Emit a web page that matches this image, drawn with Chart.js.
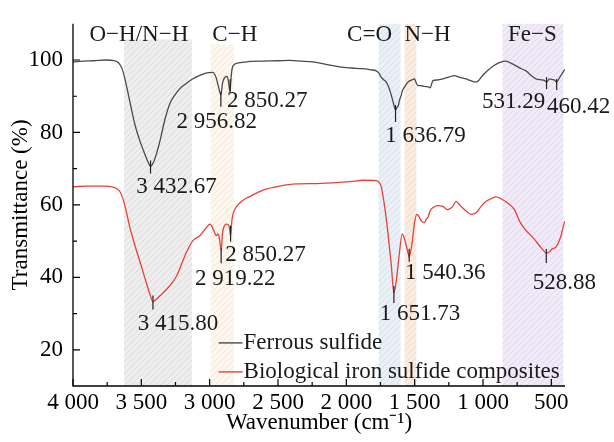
<!DOCTYPE html>
<html>
<head>
<meta charset="utf-8">
<script src="https://cdn.jsdelivr.net/npm/chart.js@4/dist/chart.umd.min.js"></script>
<style>
html,body{margin:0;padding:0;background:#fff;}
#wrap{width:614px;height:442px;}
</style>
</head>
<body>
<div id="wrap"><canvas id="c" width="614" height="442"></canvas></div>
<script>
// ---------- data ----------
const seriesNames = ["Ferrous sulfide", "Biological iron sulfide composites"];

const ferrousWn = [4000,3925,3850,3754,3700,3669,3644,3620,3584,3547,3510,3474,3450,3433,3415,3401,3364,3328,3291,3250,3218,3180,3145,3100,3048,3010,2975,2960,2950,2935,2918,2905,2889,2873,2862,2852,2840,2829,2790,2750,2700,2612,2500,2414,2330,2246,2150,2049,1960,1881,1820,1781,1760,1744,1725,1708,1690,1671,1655,1640,1630,1623,1610,1598,1590,1575,1550,1520,1501,1490,1477,1450,1428,1400,1386,1375,1367,1330,1294,1250,1209,1170,1123,1090,1050,1030,1014,985,953,920,880,831,800,758,720,685,650,612,565,545,535,514,492,475,461,442,422,405,400];
const ferrousT = [99.5,99.7,99.8,100.0,99.8,99.3,97.9,94.8,88.5,82.2,77.6,74.0,71.8,70.6,71.5,72.7,77.6,83.5,88.0,90.6,92.1,93.3,94.3,95.3,96.1,96.5,96.6,95.8,94.8,92.5,90.4,93.8,95.2,95.5,94.0,91.4,96.5,98.4,99.2,99.4,99.6,99.7,99.8,99.9,99.7,99.5,98.8,98.1,97.8,97.6,97.3,97.0,96.3,95.2,94.5,93.9,92.5,90.3,88.0,86.2,86.9,87.1,89.0,90.3,91.5,92.5,93.9,94.5,94.8,93.8,93.0,92.9,92.7,92.6,92.3,93.5,94.3,94.5,94.8,95.3,95.7,95.2,94.8,94.3,93.9,94.4,95.2,96.4,97.5,98.5,99.3,99.7,99.2,98.4,97.6,97.0,95.8,94.8,94.5,94.2,93.9,94.8,94.6,94.4,93.9,95.0,96.2,97.2,97.4];

const bioWn = [4000,3900,3779,3706,3657,3632,3608,3584,3547,3510,3474,3437,3415,3401,3364,3315,3267,3240,3218,3169,3121,3072,3023,2999,2985,2970,2950,2938,2928,2916,2905,2897,2877,2858,2847,2838,2829,2804,2780,2731,2707,2610,2488,2366,2219,2049,1950,1879,1781,1760,1744,1720,1696,1671,1652,1635,1611,1591,1574,1550,1540,1518,1501,1484,1470,1452,1428,1416,1404,1385,1367,1331,1294,1258,1240,1221,1197,1180,1160,1123,1087,1050,1014,977,941,904,868,819,770,734,685,637,588,555,537,515,495,466,429,405,400];
const bioT = [65.0,65.2,65.2,64.9,63.7,61.4,57.8,53.8,48.8,44.3,39.8,35.3,33.3,33.6,34.9,36.7,38.9,40.5,42.5,47.0,50.2,51.5,53.8,54.7,54.2,52.9,51.5,52.0,50.5,47.5,52.5,53.8,54.7,54.2,51.5,55.5,57.5,59.5,60.5,61.9,62.3,64.1,65.2,65.8,65.9,66.2,66.5,66.8,66.7,66.2,65.0,59.6,52.4,43.4,35.7,38.9,47.0,52.0,50.6,47.0,45.7,49.7,55.1,57.4,56.9,55.6,55.1,56.0,56.5,58.5,59.2,59.8,59.6,58.7,59.0,59.6,61.0,60.4,59.6,58.3,57.4,57.8,59.6,61.0,61.7,62.2,61.7,60.5,58.7,55.6,52.9,51.1,48.8,47.3,46.7,47.0,47.8,48.4,51.5,55.1,55.5];

// peak annotations
const peakSeries = [0,0,0,0,0,0,1,1,1,1,1,1];
const peakWn = [3432.67,2918,2850.27,1640,535,461,3415,2916,2847,1652,1540,537];
const peakT = [70.6,90.4,91.4,86.2,93.9,93.9,33.3,47.5,51.5,35.7,45.7,46.7];
const peakLabels = ["3 432.67","2 956.82","2 850.27","1 636.79","531.29","460.42","3 415.80","2 919.22","2 850.27","1 651.73","1 540.36","528.88"];

// functional-group bands
const bandNames = ["O\u2212H/N\u2212H","C\u2212H","C=O","N\u2212H","Fe\u2212S"];
const bandFrom = [3627,2992,1764,1574,858];
const bandTo = [3130,2824,1603,1487,412];
const bandTop = [105.7,104.3,110,110,110];
const bandLabelWn = [3518,2816,1830,1406,639];
const bandLabelT = [107,107,107,107,107];

// axes
const xTicks = [4000,3500,3000,2500,2000,1500,1000,500];
const xMinor = [3750,3250,2750,2250,1750,1250,750];
const yTicks = [20,40,60,80,100];
const yMinor = [30,50,70,90];

// ---------- styles ----------
const FONT = '"Liberation Serif", "Times New Roman", serif';
const FS = 23;
const lineColors = ['#4a4a4a', '#e8403a'];
const bandStyles = [
  ['#eeeeee', '#d6d6d6'],
  ['#fdf7ee', '#f2e3cc'],
  ['#e9f0f7', '#cedbec'],
  ['#fcecdf', '#f2d5ba'],
  ['#f1eaf9', '#dccff1']
];
// label offset (dx,dy) and marker span (up,down) in px, per peak
const peakLabelDx = [26,-4,37,30,-33,22,25,14,35,26,36,18];
const peakLabelDy = [20,27,10,26,20,25,22,29,19,21,16,30];
const peakMarkUp = [6,3,12,5,5,3,6,2,10,7,8,4];
const peakMarkDown = [7,12,1,12,7,8,8,13,6,10,5,10];

function fmt(v){
  const s = String(Math.round(v));
  return s.length > 3 ? s.slice(0, s.length-3) + ' ' + s.slice(-3) : s;
}

function makeHatch(ctx, bg, fg){
  const n = 6;
  const c = document.createElement('canvas');
  c.width = n; c.height = n;
  const g = c.getContext('2d');
  g.fillStyle = bg; g.fillRect(0,0,n,n);
  g.strokeStyle = fg; g.lineWidth = 0.8;
  g.beginPath();
  g.moveTo(-1, n+1); g.lineTo(n+1, -1);
  g.moveTo(-1, 1); g.lineTo(1, -1);
  g.moveTo(n-1, n+1); g.lineTo(n+1, n-1);
  g.stroke();
  return ctx.createPattern(c, 'repeat');
}

const overlay = {
  id: 'overlay',
  beforeDatasetsDraw(chart){
    const {ctx, chartArea, scales:{x, y}} = chart;
    ctx.save();
    bandNames.forEach((name, i) => {
      const x1 = x.getPixelForValue(bandFrom[i]);
      const x2 = x.getPixelForValue(bandTo[i]);
      const yt = y.getPixelForValue(bandTop[i]);
      ctx.fillStyle = makeHatch(ctx, bandStyles[i][0], bandStyles[i][1]);
      ctx.fillRect(x1, yt, x2 - x1, chartArea.bottom - yt);
    });
    ctx.restore();
  },
  afterDatasetsDraw(chart){
    const {ctx, chartArea, scales:{x, y}} = chart;
    ctx.save();
    // axes lines
    ctx.strokeStyle = '#000';
    ctx.lineWidth = 1.3;
    ctx.beginPath();
    ctx.moveTo(chartArea.left, chartArea.top);
    ctx.lineTo(chartArea.left, chartArea.bottom);
    ctx.lineTo(chartArea.right, chartArea.bottom);
    ctx.stroke();
    // ticks (inward)
    ctx.lineWidth = 1.2;
    ctx.beginPath();
    xTicks.forEach(v => { const p = x.getPixelForValue(v); ctx.moveTo(p, chartArea.bottom); ctx.lineTo(p, chartArea.bottom - 7); });
    xMinor.forEach(v => { const p = x.getPixelForValue(v); ctx.moveTo(p, chartArea.bottom); ctx.lineTo(p, chartArea.bottom - 4); });
    yTicks.forEach(v => { const p = y.getPixelForValue(v); ctx.moveTo(chartArea.left, p); ctx.lineTo(chartArea.left + 7, p); });
    yMinor.forEach(v => { const p = y.getPixelForValue(v); ctx.moveTo(chartArea.left, p); ctx.lineTo(chartArea.left + 4, p); });
    ctx.stroke();

    // peak markers + labels
    ctx.font = FS + 'px ' + FONT;
    ctx.textAlign = 'center';
    ctx.textBaseline = 'middle';
    peakWn.forEach((wn, i) => {
      const px = x.getPixelForValue(wn);
      const py = y.getPixelForValue(peakT[i]);
      ctx.strokeStyle = '#222';
      ctx.lineWidth = 1.2;
      ctx.beginPath();
      ctx.moveTo(px, py - peakMarkUp[i]);
      ctx.lineTo(px, py + peakMarkDown[i]);
      ctx.stroke();
      ctx.fillStyle = '#1a1a1a';
      ctx.fillText(peakLabels[i], px + peakLabelDx[i], py + peakLabelDy[i]);
    });

    // band labels
    bandNames.forEach((name, i) => {
      ctx.fillStyle = '#1a1a1a';
      ctx.fillText(name, x.getPixelForValue(bandLabelWn[i]), y.getPixelForValue(bandLabelT[i]));
    });

    // legend
    const lx = x.getPixelForValue(2935), ly0 = y.getPixelForValue(21.9), gap = 29;
    ctx.textAlign = 'left';
    seriesNames.forEach((name, i) => {
      const yy = ly0 + i * gap;
      ctx.strokeStyle = lineColors[i];
      ctx.lineWidth = 1.4;
      ctx.beginPath();
      ctx.moveTo(lx, yy); ctx.lineTo(lx + 24, yy);
      ctx.stroke();
      ctx.fillStyle = '#1a1a1a';
      ctx.fillText(name, lx + 25, yy);
    });
    ctx.restore();
  }
};

const toPts = (wn, t) => wn.map((w, i) => ({x: w, y: t[i]}));

new Chart(document.getElementById('c'), {
  type: 'line',
  data: {
    datasets: [
      {label: seriesNames[0], data: toPts(ferrousWn, ferrousT), borderColor: lineColors[0], borderWidth: 1.3, pointRadius: 0, cubicInterpolationMode: 'monotone', fill: false},
      {label: seriesNames[1], data: toPts(bioWn, bioT), borderColor: lineColors[1], borderWidth: 1.3, pointRadius: 0, cubicInterpolationMode: 'monotone', fill: false}
    ]
  },
  options: {
    responsive: false,
    animation: false,
    events: [],
    layout: {padding: {top: 17, right: 49, bottom: 0, left: 0}},
    plugins: {legend: {display: false}, tooltip: {enabled: false}},
    scales: {
      x: {
        type: 'linear', reverse: true, min: 400, max: 4000,
        afterBuildTicks: s => { s.ticks = xTicks.map(v => ({value: v})); },
        afterFit: s => { s.height = 56; },
        grid: {display: false, drawTicks: false},
        border: {display: false},
        ticks: {color: '#000', font: {family: FONT, size: FS}, padding: 3, maxRotation: 0, autoSkip: false, callback: v => fmt(v)},
        title: {display: true, text: 'Wavenumber (cm\u207B\u00B9)', color: '#000', font: {family: FONT, size: FS}, padding: {top: 0, bottom: 5}}
      },
      y: {
        type: 'linear', min: 10, max: 110,
        afterBuildTicks: s => { s.ticks = yTicks.map(v => ({value: v})); },
        afterFit: s => { s.width = 73; },
        grid: {display: false, drawTicks: false},
        border: {display: false},
        ticks: {color: '#000', font: {family: FONT, size: FS}, padding: 10, autoSkip: false},
        title: {display: true, text: 'Transmittance (%)', color: '#000', font: {family: FONT, size: FS}, padding: {top: 7, bottom: 0}}
      }
    }
  },
  plugins: [overlay]
});
</script>
</body>
</html>
